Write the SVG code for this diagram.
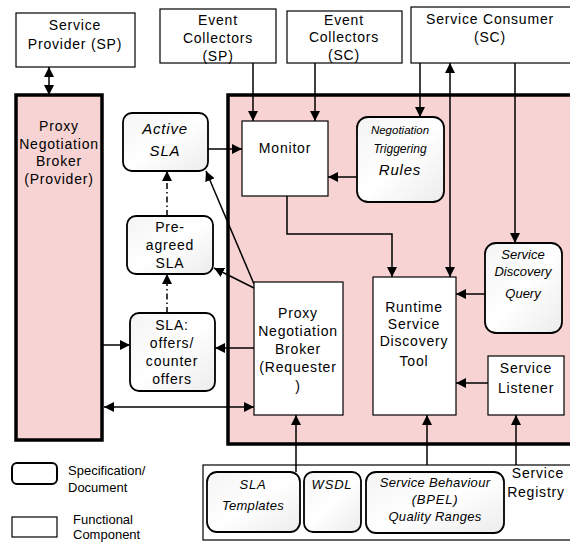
<svg xmlns="http://www.w3.org/2000/svg" width="570" height="543" viewBox="0 0 570 543">
<defs>
<marker id="ah" markerUnits="userSpaceOnUse" markerWidth="10" markerHeight="10" refX="10" refY="5" orient="auto-start-reverse" viewBox="0 0 10 10">
<path d="M0,0 L10,5 L0,10 z" fill="#000"/>
</marker>
<linearGradient id="doc" x1="0" y1="0" x2="1" y2="1">
<stop offset="0" stop-color="#f4f4f4"/>
<stop offset="0.5" stop-color="#ffffff"/>
<stop offset="1" stop-color="#ececec"/>
</linearGradient>
</defs>
<style>
text{font-family:"Liberation Sans",Arial,sans-serif;font-size:14px;letter-spacing:0.8px;text-anchor:middle;fill:#000}
.it{font-style:italic}
.rect{fill:#fff;stroke:#000;stroke-width:1.2}
.docb{fill:url(#doc);stroke:#000;stroke-width:1.8}
.pink{fill:#f7d3d3;stroke:#000;stroke-width:3.5}
.ln{fill:none;stroke:#000;stroke-width:1.5}
.ar{marker-end:url(#ah)}
.dar{marker-start:url(#ah);marker-end:url(#ah)}
.dd{stroke-dasharray:6 3 1.5 3}
.leg{text-anchor:start;letter-spacing:0}
</style>
<rect width="570" height="543" fill="#fff"/>

<g id="pink-region"><rect class="pink" x="228" y="95" width="346" height="349"/></g>
<g id="registry-container"><rect x="203" y="465" width="372" height="75" fill="#fff" stroke="#000" stroke-width="1.2"/></g>

<g id="connectors">
<line class="ln dar" x1="49" y1="67" x2="49" y2="95"/>
<line class="ln ar" x1="253" y1="63" x2="253" y2="121"/>
<line class="ln ar" x1="315" y1="63" x2="315" y2="121"/>
<line class="ln ar" x1="420" y1="63" x2="420" y2="117"/>
<line class="ln dar" x1="450" y1="63" x2="450" y2="277"/>
<line class="ln ar" x1="515" y1="63" x2="515" y2="243"/>
<line class="ln ar" x1="357" y1="177" x2="328" y2="177"/>
<polyline class="ln ar" points="287,196 287,234 392,234 392,277"/>
<line class="ln ar" x1="485" y1="294" x2="456" y2="294"/>
<line class="ln ar" x1="488" y1="383" x2="456" y2="383"/>
<line class="ln ar" x1="208" y1="149" x2="242" y2="149"/>
<line class="ln ar" x1="254" y1="284" x2="206" y2="171"/>
<line class="ln ar" x1="254" y1="288" x2="214" y2="268"/>
<line class="ln ar" x1="254" y1="348" x2="215" y2="348"/>
<line class="ln ar" x1="103" y1="345" x2="130" y2="345"/>
<line class="ln dar" x1="104" y1="407" x2="254" y2="407"/>
<line class="ln dd ar" x1="167" y1="313" x2="167" y2="274"/>
<line class="ln dd ar" x1="167" y1="216" x2="167" y2="171"/>
<line class="ln ar" x1="296" y1="472" x2="296" y2="415"/>
<line class="ln ar" x1="427" y1="465" x2="427" y2="415"/>
<line class="ln ar" x1="516" y1="465" x2="516" y2="415"/>
</g>

<g id="service-provider"><rect class="rect" x="16" y="13" width="119" height="54"/>
<text x="75" y="30">Service</text><text x="75" y="49">Provider (SP)</text></g>

<g id="event-collectors-sp"><rect class="rect" x="160" y="9" width="116" height="54"/>
<text x="218" y="25">Event</text><text x="218" y="43">Collectors</text><text x="218" y="61">(SP)</text></g>

<g id="event-collectors-sc"><rect class="rect" x="287" y="11" width="115" height="52"/>
<text x="344" y="25">Event</text><text x="344" y="42">Collectors</text><text x="344" y="60">(SC)</text></g>

<g id="service-consumer"><rect class="rect" x="411" y="7" width="163" height="56"/>
<text x="490" y="24">Service Consumer</text><text x="490" y="42">(SC)</text></g>

<g id="pnb-provider"><rect class="pink" x="16" y="95" width="86" height="345"/>
<text x="59" y="131">Proxy</text><text x="59" y="149">Negotiation</text><text x="59" y="166">Broker</text><text x="59" y="184">(Provider)</text></g>

<g id="active-sla"><rect class="docb" x="123" y="113" width="85" height="58" rx="9"/>
<text class="it" x="165" y="134" style="font-size:15px">Active</text><text class="it" x="165" y="156" style="font-size:15px">SLA</text></g>

<g id="pre-agreed-sla"><rect class="docb" x="127" y="216" width="86" height="58" rx="9"/>
<text x="170" y="232">Pre-</text><text x="170" y="250">agreed</text><text x="170" y="268">SLA</text></g>

<g id="sla-offers"><rect class="docb" x="130" y="313" width="85" height="78" rx="9"/>
<text x="172" y="330">SLA:</text><text x="172" y="348">offers/</text><text x="172" y="366">counter</text><text x="172" y="384">offers</text></g>

<g id="monitor"><rect class="rect" x="242" y="121" width="86" height="75"/>
<text x="285" y="153">Monitor</text></g>

<g id="negotiation-triggering-rules"><rect class="docb" x="357" y="117" width="87" height="85" rx="11"/>
<text class="it" x="400" y="134" style="font-size:11.5px;letter-spacing:0">Negotiation</text>
<text class="it" x="400" y="153" style="font-size:12px;letter-spacing:0">Triggering</text>
<text class="it" x="400" y="175" style="font-size:15px">Rules</text></g>

<g id="service-discovery-query"><rect class="docb" x="485" y="243" width="77" height="90" rx="11"/>
<text class="it" x="523" y="259" style="font-size:13px;letter-spacing:0">Service</text>
<text class="it" x="523" y="276" style="font-size:13px;letter-spacing:0">Discovery</text>
<text class="it" x="523" y="298" style="font-size:13px;letter-spacing:0">Query</text></g>

<g id="runtime-service-discovery-tool"><rect class="rect" x="373" y="277" width="83" height="138"/>
<text x="414" y="312">Runtime</text><text x="414" y="329">Service</text><text x="414" y="346">Discovery</text><text x="414" y="366">Tool</text></g>

<g id="service-listener"><rect class="rect" x="488" y="356" width="76" height="59"/>
<text x="526" y="373">Service</text><text x="526" y="393">Listener</text></g>

<g id="pnb-requester"><rect class="rect" x="254" y="282" width="89" height="133"/>
<text x="298" y="318">Proxy</text><text x="298" y="336">Negotiation</text><text x="298" y="354">Broker</text><text x="298" y="372">(Requester</text><text x="298" y="391">)</text></g>

<g id="sla-templates"><rect class="docb" x="207" y="472" width="93" height="60" rx="10"/>
<text class="it" x="253" y="489" style="font-size:13px">SLA</text><text class="it" x="253" y="510" style="font-size:13px;letter-spacing:0.3px">Templates</text></g>

<g id="wsdl"><rect class="docb" x="304" y="472" width="57" height="60" rx="9"/>
<text class="it" x="332" y="489" style="font-size:13px">WSDL</text></g>

<g id="service-behaviour"><rect class="docb" x="366" y="472" width="138" height="61" rx="10"/>
<text class="it" x="435" y="487" style="font-size:13px;letter-spacing:0.3px">Service Behaviour</text>
<text class="it" x="435" y="504" style="font-size:13px">(BPEL)</text>
<text class="it" x="435" y="521" style="font-size:13px;letter-spacing:0.3px">Quality Ranges</text></g>

<g id="service-registry"><text x="538" y="478">Service</text><text x="536" y="497">Registry</text></g>

<g id="legend">
<rect x="12" y="463" width="45" height="21" rx="5" fill="#fff" stroke="#000" stroke-width="2"/>
<text class="leg" x="68" y="475" style="font-size:13px">Specification/</text>
<text class="leg" x="68" y="492" style="font-size:13px">Document</text>
<rect x="12" y="517" width="45" height="20" fill="#fff" stroke="#000" stroke-width="1.2"/>
<text class="leg" x="73" y="524" style="font-size:13px">Functional</text>
<text class="leg" x="73" y="539" style="font-size:13px">Component</text>
</g>
</svg>
